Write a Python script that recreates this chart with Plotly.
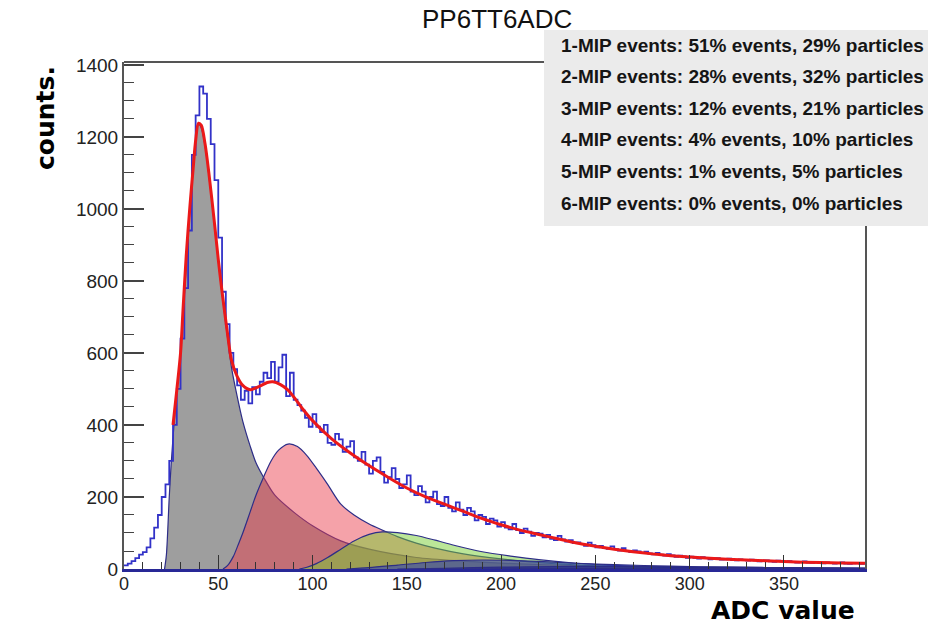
import numpy as np
import plotly.graph_objects as go

# ---------------- data ----------------
BIN_WIDTH = 2
# histogram counts, one per 2-ADC bin starting at 0
hist_counts = [
    10, 15, 22, 30, 40, 47, 60, 85, 115, 150, 200, 235, 300, 400, 500, 640, 780, 940, 1150, 1260,
    1340, 1320, 1250, 1180, 1080,
    920, 770, 680, 600, 555, 510, 470, 495, 460, 505, 485, 520, 545, 530, 575, 520, 560, 595, 480, 545,
    470, 455, 440, 420, 395,
    430, 395, 380, 400, 350, 345, 375, 360, 325, 340, 355, 310, 300, 325, 290, 265, 300, 310, 270, 240,
    255, 280, 250, 225, 235, 260, 215, 205, 230, 215, 185, 200, 215, 180, 175, 200, 170, 160, 185, 165,
    150, 170, 160, 135, 150, 145, 125, 140, 135, 118,
    130, 115, 110, 125, 108, 100, 112, 104, 92, 100, 98, 88, 95, 84, 80, 92, 82, 76, 80, 72,
    74, 70, 64, 73, 66, 60, 64, 58, 56, 63, 55, 51, 58, 50, 47, 52, 49, 44, 48, 43,
    41, 45, 40, 37, 41, 38, 34, 37, 35, 31,
    34, 31, 29, 33, 30, 27, 29, 30, 26, 27, 29, 25, 24, 27, 25, 23, 26, 24, 21, 23,
    24, 21, 20, 23, 21, 19, 22, 20, 18, 19, 21, 18, 17, 19, 18, 16, 18, 17, 15, 17,
    18, 15, 14, 16, 17, 14, 15,
]

# total fit
fit_x = [26, 28, 30, 31.3, 33, 35, 36.6, 38, 39.5, 41, 43, 45, 48, 50, 52, 55, 57, 60, 63, 67,
         72, 76, 79, 83, 87, 90, 95, 100, 110, 120, 127, 140, 150, 160, 170, 180, 190, 200, 210,
         220, 230, 240, 250, 260, 270, 280, 290, 300, 320, 340, 360, 380, 393]
fit_y = [400, 497, 600, 720, 870, 1010, 1108, 1190, 1238, 1232, 1180, 1100, 960, 860, 770, 650,
         580, 535, 510, 498, 508, 518, 520, 512, 497, 478, 443, 412, 362, 322, 297, 255, 225, 200,
         180, 160, 140, 123, 108, 96, 84, 72, 63, 55, 48, 42, 37, 33, 27, 23, 19, 17, 16]

# n-MIP components
mip1_x = [21.5, 22.5, 24, 25, 26.5, 28, 30, 32, 34, 36, 38, 39.5, 41, 43, 45, 48, 50, 52, 55, 57,
          60, 63, 67, 70, 74, 80, 90, 100, 115, 130, 155, 180, 210, 250, 300, 350, 393]
mip1_y = [0, 40, 200, 290, 400, 497, 600, 760, 920, 1080, 1190, 1235, 1225, 1175, 1095, 955, 855,
          765, 640, 560, 480, 410, 340, 295, 255, 205, 158, 120, 78, 55, 32, 22, 14, 8, 4, 2, 1.5]

mip2_x = [52.5, 55, 58, 60, 63, 67, 70, 74, 78, 82, 87, 92, 97, 102, 108, 115, 122, 130, 137, 145,
          155, 165, 180, 200, 225, 250, 280, 320, 393]
mip2_y = [0, 10, 35, 60, 100, 160, 205, 255, 300, 330, 347, 340, 315, 280, 235, 180, 150, 125, 108,
          90, 72, 58, 42, 28, 16, 9, 5, 2, 1]

mip3_x = [93, 97, 102, 108, 115, 122, 130, 137, 145, 155, 165, 175, 190, 205, 220, 240, 260, 290,
          330, 393]
mip3_y = [0, 5, 15, 32, 55, 78, 96, 103, 101, 93, 80, 66, 48, 36, 26, 16, 10, 5, 2.5, 1]

mip4_x = [118, 130, 145, 160, 175, 190, 205, 220, 240, 260, 290, 320, 360, 393]
mip4_y = [0, 4, 11, 18, 23, 25, 24, 21, 16, 12, 8, 5, 3, 2]

mip5_x = [145, 170, 200, 230, 260, 290, 320, 360, 393]
mip5_y = [0, 2, 5, 7, 7, 6, 5, 3.5, 2.5]

mip6_x = [180, 230, 280, 330, 393]
mip6_y = [0, 0.5, 1, 1, 0.8]

legend_lines = [
    "1-MIP events: 51% events, 29% particles",
    "2-MIP events: 28% events, 32% particles",
    "3-MIP events: 12% events, 21% particles",
    "4-MIP events: 4% events, 10% particles",
    "5-MIP events: 1% events, 5% particles",
    "6-MIP events: 0% events, 0% particles",
]

x_ticks = [0, 50, 100, 150, 200, 250, 300, 350]
y_ticks = [0, 200, 400, 600, 800, 1000, 1200, 1400]

# ---------------- figure ----------------
W, H = 942, 626
ML, MR, MT, MB = 124, 77, 62, 57
X_MAX, Y_MAX = 393, 1408

fig = go.Figure()

OUTLINE = "rgb(45,45,135)"
components = [
    (mip1_x, mip1_y, "rgba(158,158,158,1.0)"),
    (mip2_x, mip2_y, "rgba(235,60,75,0.48)"),
    (mip3_x, mip3_y, "rgba(120,205,50,0.5)"),
    (mip4_x, mip4_y, "rgba(40,60,185,0.55)"),
    (mip5_x, mip5_y, "rgba(25,30,140,0.6)"),
    (mip6_x, mip6_y, "rgba(20,20,110,0.6)"),
]
for cx, cy, fc in components:
    fig.add_trace(go.Scatter(
        x=cx, y=cy, mode="lines", fill="tozeroy", fillcolor=fc,
        line=dict(color=OUTLINE, width=1.2, shape="spline", smoothing=0.8),
        hoverinfo="skip", showlegend=False,
    ))

# step histogram
edges = np.arange(len(hist_counts) + 1) * BIN_WIDTH
hx = list(edges)
hy = list(hist_counts) + [hist_counts[-1]]
fig.add_trace(go.Scatter(
    x=hx, y=hy, mode="lines",
    line=dict(color="rgb(50,50,200)", width=1.8, shape="hv"),
    hoverinfo="skip", showlegend=False,
))

# total fit
fig.add_trace(go.Scatter(
    x=fit_x, y=fit_y, mode="lines",
    line=dict(color="rgb(235,25,25)", width=3, shape="spline", smoothing=0.8),
    hoverinfo="skip", showlegend=False,
))

TICKFONT = dict(family="Liberation Sans, Arial, sans-serif", size=19, color="#222")
XTICKFONT = dict(family="Liberation Sans, Arial, sans-serif", size=18, color="#222")

fig.update_xaxes(
    range=[0, X_MAX], tickvals=x_ticks, ticks="inside", ticklen=14, tickwidth=1.4,
    tickcolor="#333", showgrid=False, zeroline=False, showline=True,
    linecolor="rgb(40,40,150)", linewidth=2.5, mirror=False, tickfont=XTICKFONT,
    ticklabelstandoff=-3,
    minor=dict(dtick=10, ticks="inside", ticklen=7, tickwidth=1.2, tickcolor="#333"),
)
fig.update_yaxes(
    range=[0, Y_MAX], tickvals=y_ticks, ticks="inside", ticklen=20, tickwidth=1.6,
    tickcolor="#444", showgrid=False, zeroline=False, showline=True,
    linecolor="#555", linewidth=2, mirror=True, tickfont=TICKFONT,
    minor=dict(dtick=50, ticks="inside", ticklen=10, tickwidth=1.4, tickcolor="#444"),
)

pw, ph = W - ML - MR, H - MT - MB


def px_x(p):
    return (p - ML) / pw


def px_y(p):
    return (H - MB - p) / ph


shapes = [
    # top frame line
    dict(type="line", xref="paper", yref="paper", x0=0, x1=1, y0=1, y1=1,
         line=dict(color="#555", width=2), layer="above"),
    # statistics box
    dict(type="rect", xref="paper", yref="paper",
         x0=px_x(544), x1=px_x(928), y0=px_y(226), y1=px_y(30),
         fillcolor="#ebebeb", line=dict(width=0), layer="above"),
]

annotations = [
    dict(text="PP6TT6ADC", xref="paper", yref="paper", x=px_x(497), y=px_y(19),
         showarrow=False, xanchor="center", yanchor="middle",
         font=dict(family="Liberation Sans, Arial, sans-serif", size=26, color="#111")),
    dict(text="<b>counts.</b>", xref="paper", yref="paper", x=px_x(45), y=px_y(118),
         showarrow=False, textangle=-90, xanchor="center", yanchor="middle",
         font=dict(family="DejaVu Sans, sans-serif", size=25, color="#000")),
    dict(text="<b>ADC value</b>", xref="paper", yref="paper", x=px_x(783), y=px_y(610),
         showarrow=False, xanchor="center", yanchor="middle",
         font=dict(family="DejaVu Sans, sans-serif", size=25, color="#000")),
]
for i, line in enumerate(legend_lines):
    annotations.append(dict(
        text="<b>%s</b>" % line, xref="paper", yref="paper",
        x=px_x(559), y=px_y(45 + i * 31.6), showarrow=False,
        xanchor="left", yanchor="middle",
        font=dict(family="Liberation Sans, Arial, sans-serif", size=19, color="#151515"),
    ))

fig.update_layout(
    width=W, height=H, margin=dict(l=ML, r=MR, t=MT, b=MB),
    paper_bgcolor="white", plot_bgcolor="white",
    shapes=shapes, annotations=annotations, showlegend=False,
)

fig.write_html("out.html")
